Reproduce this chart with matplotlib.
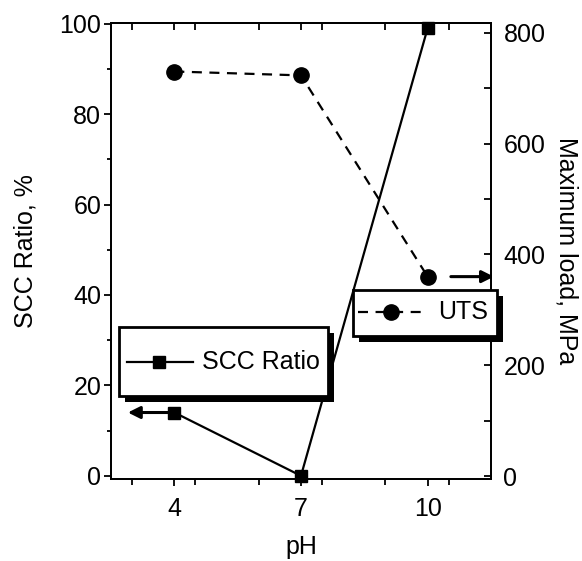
import matplotlib
matplotlib.use("Agg")
import matplotlib.pyplot as plt
from matplotlib.patches import Rectangle
from matplotlib.lines import Line2D
from matplotlib.ticker import MultipleLocator

plt.rcParams['font.family'] = ['Liberation Sans', 'DejaVu Sans']

ph = [4, 7, 10]
scc_ratio = [14, 0, 99]
uts = [730, 723, 360]
xticks = [4, 7, 10]
left_ticks = [0, 20, 40, 60, 80, 100]
right_ticks = [0, 200, 400, 600, 800]

fig = plt.figure(figsize=(5.82, 5.61), dpi=100)
ax = fig.add_axes([0.1907, 0.1462, 0.6529, 0.8133])
ax2 = ax.twinx()

FS = 18
DASH = (0, (4.5, 3.4))
ax.plot(ph, scc_ratio, '-', color='k', lw=1.6, marker='s', ms=9, clip_on=False, zorder=3)
ax2.plot(ph, uts, color='k', lw=1.6, ls=DASH, marker='o', ms=11, clip_on=False, zorder=3)

ax.set_xlim(2.5, 11.5)
ax.set_ylim(-0.7, 100.2)
ax2.set_ylim(-5, 818)

ax.set_xticks(xticks)
ax.set_xticklabels([str(t) for t in xticks])
ax.xaxis.set_minor_locator(MultipleLocator(1.5))
ax.set_yticks(left_ticks)
ax.yaxis.set_minor_locator(MultipleLocator(10))
ax2.set_yticks(right_ticks)
ax2.yaxis.set_minor_locator(MultipleLocator(100))

ax.tick_params(axis='x', which='major', direction='out', length=5, width=1.3, labelsize=FS, pad=8)
ax.tick_params(axis='x', which='minor', direction='out', length=4, width=1.3)
ax.tick_params(axis='y', which='major', direction='out', length=5, width=1.3, labelsize=FS, pad=2)
ax.tick_params(axis='y', which='minor', direction='out', length=3, width=1.3)
ax2.tick_params(axis='y', which='both', direction='in', length=5, width=1.3, labelsize=FS, pad=9)

top = ax.secondary_xaxis('top')
top.set_xticks(xticks)
top.xaxis.set_minor_locator(MultipleLocator(1.5))
top.tick_params(axis='x', which='both', direction='in', length=5, width=1.3, labeltop=False)

for a in (ax, ax2):
    for s in a.spines.values():
        s.set_linewidth(1.3)
top.spines['top'].set_linewidth(1.3)

ax.set_xlabel('pH', fontsize=FS, labelpad=10)
ax.set_ylabel('SCC Ratio, %', fontsize=FS, labelpad=16)
ax2.set_ylabel('Maximum load, MPa', fontsize=FS, rotation=-90, labelpad=24)

# arrows pointing at the relevant axes
ax.annotate('', xy=(2.9, scc_ratio[0]), xytext=(ph[0], scc_ratio[0]),
            arrowprops=dict(arrowstyle='-|>', lw=2.2, color='k', mutation_scale=18,
                            shrinkA=0, shrinkB=0), annotation_clip=False)
ax2.annotate('', xy=(11.57, uts[2]), xytext=(10.55, uts[2]),
             arrowprops=dict(arrowstyle='-|>', lw=2.2, color='k', mutation_scale=18,
                             shrinkA=0, shrinkB=0), annotation_clip=False)

def legend_box(axis, x0, y0, x1, y1, sx, sy, line_x, mark_x, text_x, ly, ls, marker, ms, label):
    tr = axis.transAxes
    axis.add_patch(Rectangle((x0 + sx, y0 - sy), x1 - x0, y1 - y0, transform=tr,
                             facecolor='k', edgecolor='k', lw=0, clip_on=False, zorder=10))
    axis.add_patch(Rectangle((x0, y0), x1 - x0, y1 - y0, transform=tr,
                             facecolor='white', edgecolor='k', lw=2.0, clip_on=False, zorder=11))
    axis.add_line(Line2D(line_x, [ly, ly], transform=tr, color='k', lw=1.6, ls=ls,
                         clip_on=False, zorder=12))
    axis.add_line(Line2D([mark_x], [ly], transform=tr, color='k', marker=marker, ms=ms,
                         clip_on=False, zorder=13))
    axis.text(text_x, ly, label, transform=tr, fontsize=18, va='center', ha='left', zorder=13)

legend_box(ax2, 0.021, 0.182, 0.571, 0.333, 0.016, 0.013,
           [0.041, 0.215], 0.126, 0.239, 0.257, '-', 's', 9, 'SCC Ratio')
legend_box(ax2, 0.637, 0.314, 1.016, 0.414, 0.016, 0.013,
           [0.650, 0.833], 0.737, 0.862, 0.366, DASH, 'o', 11, 'UTS')

fig.savefig('out.png', dpi=100)
